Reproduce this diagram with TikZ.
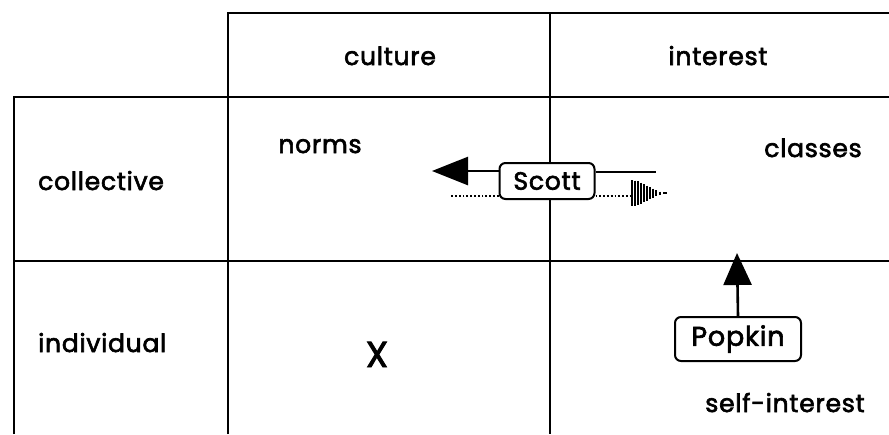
\documentclass[tikz,border=0pt]{standalone}
\usepackage{fontspec}
\setmainfont{Poppins}[FakeBold=2.5, LetterSpace=3]
\usetikzlibrary{arrows.meta}
\begin{document}
\begin{tikzpicture}[x=1pt,y=-1pt,
  grid/.style={line width=2.6pt},
  lbl/.style={font=\fontsize{25}{28}\selectfont, inner sep=0pt, anchor=base},
  namebox/.style={draw, fill=white, rounded corners=6pt, line width=2pt,
    inner sep=0pt},
  link/.style={line width=2.6pt},
  faint/.style={line width=1.8pt, dotted}]
\useasboundingbox (0,0) rectangle (889,434);

% table rules
\draw[grid] (228,434) -- (228,13) -- (889,13);
\draw[grid] (550,13) -- (550,434);
\draw[grid] (14,434) -- (14,97) -- (889,97);
\draw[grid] (14,261) -- (889,261);

% headings
\node[lbl] (culture) at (390,65) {culture};
\node[lbl] (interest) at (718,65) {interest};
\node[lbl, anchor=base west] (collective) at (38,190) {collective};
\node[lbl, anchor=base west] (individual) at (38,352) {individual};

% cell entries
\node[lbl] (norms) at (320,153) {norms};
\node[lbl] (classes) at (813,157) {classes};
\node[lbl, font=\fontsize{36}{38}\selectfont] (x) at (377,367) {X};
\node[lbl] (selfinterest) at (785,412) {self-interest};

% authors
\node[namebox, minimum width=95pt, minimum height=36pt,
  font=\fontsize{25}{28}\selectfont] (scott) at (547,181) {Scott};
\node[namebox, minimum width=126pt, minimum height=44pt,
  font=\fontsize{27}{30}\selectfont] (popkin) at (738,339) {Popkin};

% Scott: pull towards norms, faint pull towards classes
\coordinate (normsend) at (432,171);
\coordinate (classend) at (656,172);
\coordinate (dotleft) at (450,196);
\coordinate (dotright) at (632,196);
\draw[link, -{Triangle[length=36pt,width=28pt]}] (scott.west |- normsend) -- (normsend);
\draw[link] (scott.east |- classend) -- (classend);
\draw[faint] (scott.west |- dotleft) -- (dotleft);
\draw[faint] (scott.east |- dotright) -- (dotright);
% hatched arrow head
\foreach \i/\h in {0/13,3/12.5,6/12,9/10.5,12/9,15/7.5,18/6,21/4.5,24/3,28/1.5}
  \draw[line width=1.7pt] (632+\i,193-\h) -- (632+\i,193+\h);
\draw[line width=1.5pt] (663,193) -- (667,193);

% Popkin: pull towards classes
\coordinate (popkinend) at (737,253);
\draw[link, -{Triangle[length=32pt,width=28pt]}] (popkin.north) -- (popkinend);
\end{tikzpicture}
\end{document}
